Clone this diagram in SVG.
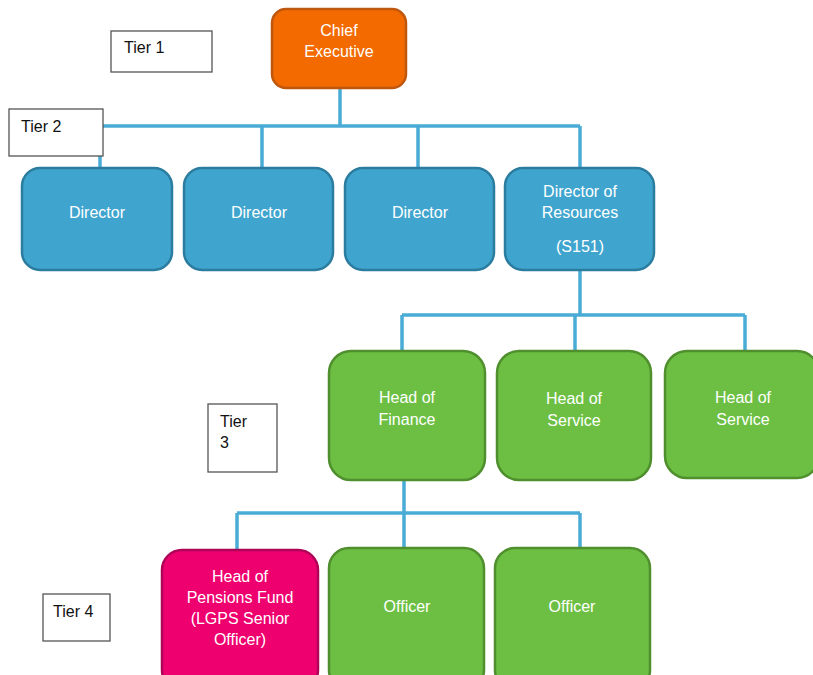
<svg xmlns="http://www.w3.org/2000/svg" width="813" height="675" viewBox="0 0 813 675">
<style>
.n{stroke-width:2.5}
.or{fill:#F26A00;stroke:#C0570E}
.bl{fill:#3FA5CE;stroke:#2B7C9E}
.gr{fill:#6CBF43;stroke:#4F8F2E}
.pk{fill:#EE006E;stroke:#B00458}
.t{font-family:"Liberation Sans",Arial,sans-serif;font-size:16px;fill:#ffffff;text-anchor:middle}
.tier{fill:#ffffff;stroke:#555555;stroke-width:1.3}
.tt{font-family:"Liberation Sans",Arial,sans-serif;font-size:16px;fill:#111111}
.c{fill:none;stroke:#4AACD6;stroke-width:3.5}
</style>
<rect width="813" height="675" fill="#ffffff"/>
<g id="connectors">
<path class="c" d="M340 88V126M100 126H580M100 126V168M262 126V168M418 126V168M580 126V168"/>
<path class="c" d="M580 270V315M402 315H745M402 315V351M575 315V351M745 315V351"/>
<path class="c" d="M404 480V550M237 513H580M237 513V550M580 513V550"/>
</g>
<g id="tier1"><rect class="tier" x="111" y="31" width="101" height="41"/><text class="tt" x="124" y="53">Tier 1</text></g>
<g id="tier2"><rect class="tier" x="9" y="109" width="94" height="47"/><text class="tt" x="21" y="132">Tier 2</text></g>
<g id="tier3"><rect class="tier" x="208" y="404" width="69" height="68"/><text class="tt" x="220" y="427">Tier</text><text class="tt" x="220" y="448">3</text></g>
<g id="tier4"><rect class="tier" x="43" y="594" width="67" height="47"/><text class="tt" x="53" y="617">Tier 4</text></g>
<g id="chief"><rect class="n or" x="272" y="9" width="134" height="79" rx="14"/><text class="t" x="339" y="36">Chief</text><text class="t" x="339" y="57">Executive</text></g>
<g id="dir1"><rect class="n bl" x="22" y="168" width="150" height="102" rx="18"/><text class="t" x="97" y="218">Director</text></g>
<g id="dir2"><rect class="n bl" x="184" y="168" width="149" height="102" rx="18"/><text class="t" x="259" y="218">Director</text></g>
<g id="dir3"><rect class="n bl" x="345" y="168" width="149" height="102" rx="18"/><text class="t" x="420" y="218">Director</text></g>
<g id="dir4"><rect class="n bl" x="505" y="168" width="149" height="102" rx="18"/><text class="t" x="580" y="197">Director of</text><text class="t" x="580" y="218">Resources</text><text class="t" x="580" y="252">(S151)</text></g>
<g id="hof"><rect class="n gr" x="329" y="351" width="156" height="129" rx="22"/><text class="t" x="407" y="403">Head of</text><text class="t" x="407" y="425">Finance</text></g>
<g id="hos1"><rect class="n gr" x="497" y="351" width="154" height="129" rx="22"/><text class="t" x="574" y="404">Head of</text><text class="t" x="574" y="426">Service</text></g>
<g id="hos2"><rect class="n gr" x="665" y="351" width="154" height="127" rx="22"/><text class="t" x="743" y="403">Head of</text><text class="t" x="743" y="425">Service</text></g>
<g id="pension"><rect class="n pk" x="162" y="550" width="156" height="140" rx="20"/><text class="t" x="240" y="582">Head of</text><text class="t" x="240" y="603">Pensions Fund</text><text class="t" x="240" y="624">(LGPS Senior</text><text class="t" x="240" y="645">Officer)</text></g>
<g id="off1"><rect class="n gr" x="329" y="548" width="155" height="142" rx="20"/><text class="t" x="407" y="612">Officer</text></g>
<g id="off2"><rect class="n gr" x="495" y="548" width="155" height="142" rx="20"/><text class="t" x="572" y="612">Officer</text></g>
</svg>
